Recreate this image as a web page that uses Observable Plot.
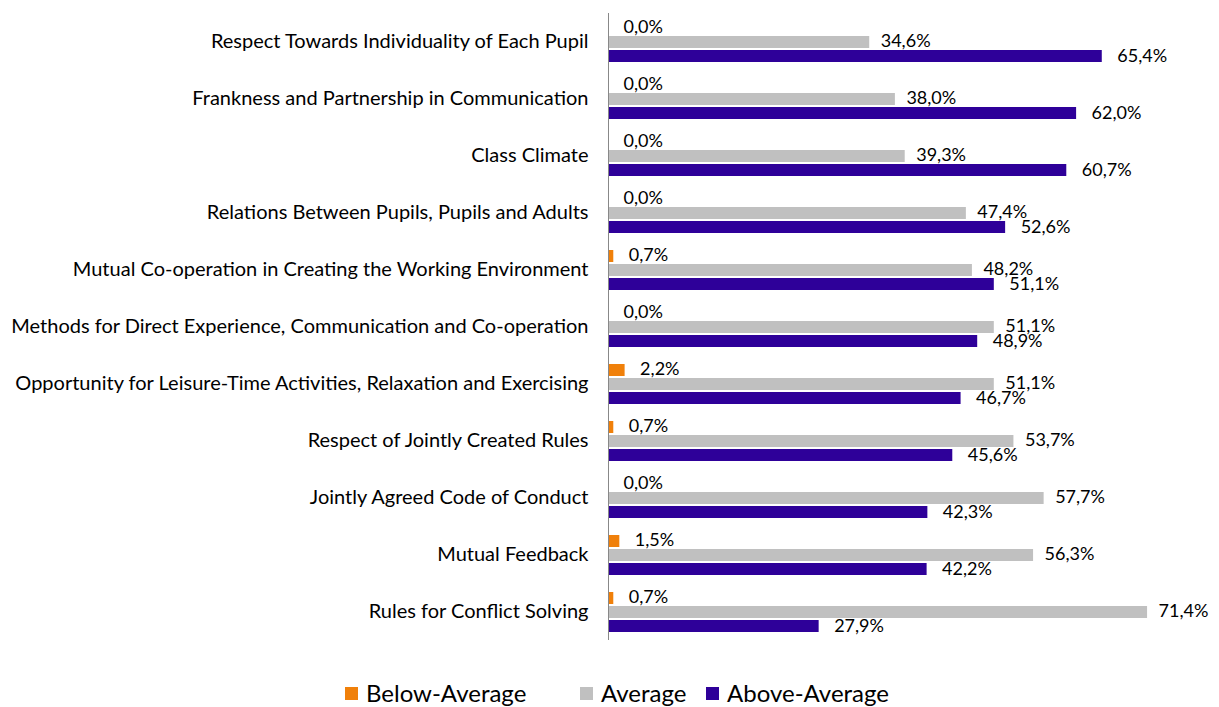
<!DOCTYPE html>
<html>
<head>
<meta charset="utf-8">
<script src="https://cdn.jsdelivr.net/npm/d3@7"></script>
<script src="https://cdn.jsdelivr.net/npm/@observablehq/plot@0.6"></script>
<style>
  body { margin: 0; background: #fff; }
  #legend { position: relative; height: 30px; font-family: Lato, sans-serif; font-size: 24px; color: #000; margin-top: 13px; }
  #legend .item { position: absolute; top: 0; white-space: nowrap; }
  #legend span.sw { display: inline-block; width: 13px; height: 13px; margin-right: 8px; vertical-align: 2px; }
</style>
</head>
<body>
<div id="chart"></div>
<div id="legend"></div>
<script>
const categories = [
  "Respect Towards Individuality of Each Pupil",
  "Frankness and Partnership in Communication",
  "Class Climate",
  "Relations Between Pupils, Pupils and Adults",
  "Mutual Co-operation in Creating the Working Environment",
  "Methods for Direct Experience, Communication and Co-operation",
  "Opportunity for Leisure-Time Activities, Relaxation and Exercising",
  "Respect of Jointly Created Rules",
  "Jointly Agreed Code of Conduct",
  "Mutual Feedback",
  "Rules for Conflict Solving"
];
const seriesNames = ["Below-Average", "Average", "Above-Average"];
const belowAverage = [0.0, 0.0, 0.0, 0.0, 0.7, 0.0, 2.2, 0.7, 0.0, 1.5, 0.7];
const average      = [34.6, 38.0, 39.3, 47.4, 48.2, 51.1, 51.1, 53.7, 57.7, 56.3, 71.4];
const aboveAverage = [65.4, 62.0, 60.7, 52.6, 51.1, 48.9, 46.7, 45.6, 42.3, 42.2, 27.9];
const colors = ["#F0800A", "#C0C0C0", "#2E0099"];

const seriesValues = [belowAverage, average, aboveAverage];
const data = [];
categories.forEach((c, i) => {
  seriesNames.forEach((s, j) => data.push({category: c, series: s, value: seriesValues[j][i]}));
});
const fmt = v => v.toFixed(1).replace(".", ",") + "%";
const font = 'Lato, sans-serif';

const chart = Plot.plot({
  width: 1219,
  height: 665,
  marginLeft: 608,
  marginRight: 7,
  marginTop: 11,
  marginBottom: 24,
  style: {fontFamily: font, fontSize: "18px", color: "#000", background: "#fff"},
  x: {domain: [0, 80], axis: null},
  fy: {domain: categories, padding: 0, label: null},
  y: {domain: seriesNames, paddingInner: 0.15, paddingOuter: 0.6, axis: null},
  color: {domain: seriesNames, range: colors},
  marks: [
    Plot.barX(data, {fy: "category", y: "series", x: "value", fill: "series"}),
    Plot.text(data.filter(d => d.series === "Below-Average"), {fy: "category", y: "series", x: "value", text: d => fmt(d.value), textAnchor: "start", dx: 15, dy: -1, fill: "#000", fontSize: 18}),
    Plot.text(data.filter(d => d.series === "Average"), {fy: "category", y: "series", x: "value", text: d => fmt(d.value), textAnchor: "start", dx: 11, dy: -1, fill: "#000", fontSize: 18}),
    Plot.text(data.filter(d => d.series === "Above-Average"), {fy: "category", y: "series", x: "value", text: d => fmt(d.value), textAnchor: "start", dx: 15, dy: 0, fill: "#000", fontSize: 18}),
    Plot.ruleX([0], {stroke: "#888", strokeWidth: 1}),
    Plot.axisFy({anchor: "left", tickSize: 0, tickPadding: 20, label: null, fontSize: 20})
  ]
});
document.getElementById("chart").appendChild(chart);

const legendX = [345, 580, 706];
const legend = document.getElementById("legend");
seriesNames.forEach((s, j) => {
  const item = document.createElement("div");
  item.className = "item";
  item.style.left = legendX[j] + "px";
  const sw = document.createElement("span");
  sw.className = "sw";
  sw.style.background = colors[j];
  item.appendChild(sw);
  item.appendChild(document.createTextNode(s));
  legend.appendChild(item);
});
</script>
</body>
</html>
